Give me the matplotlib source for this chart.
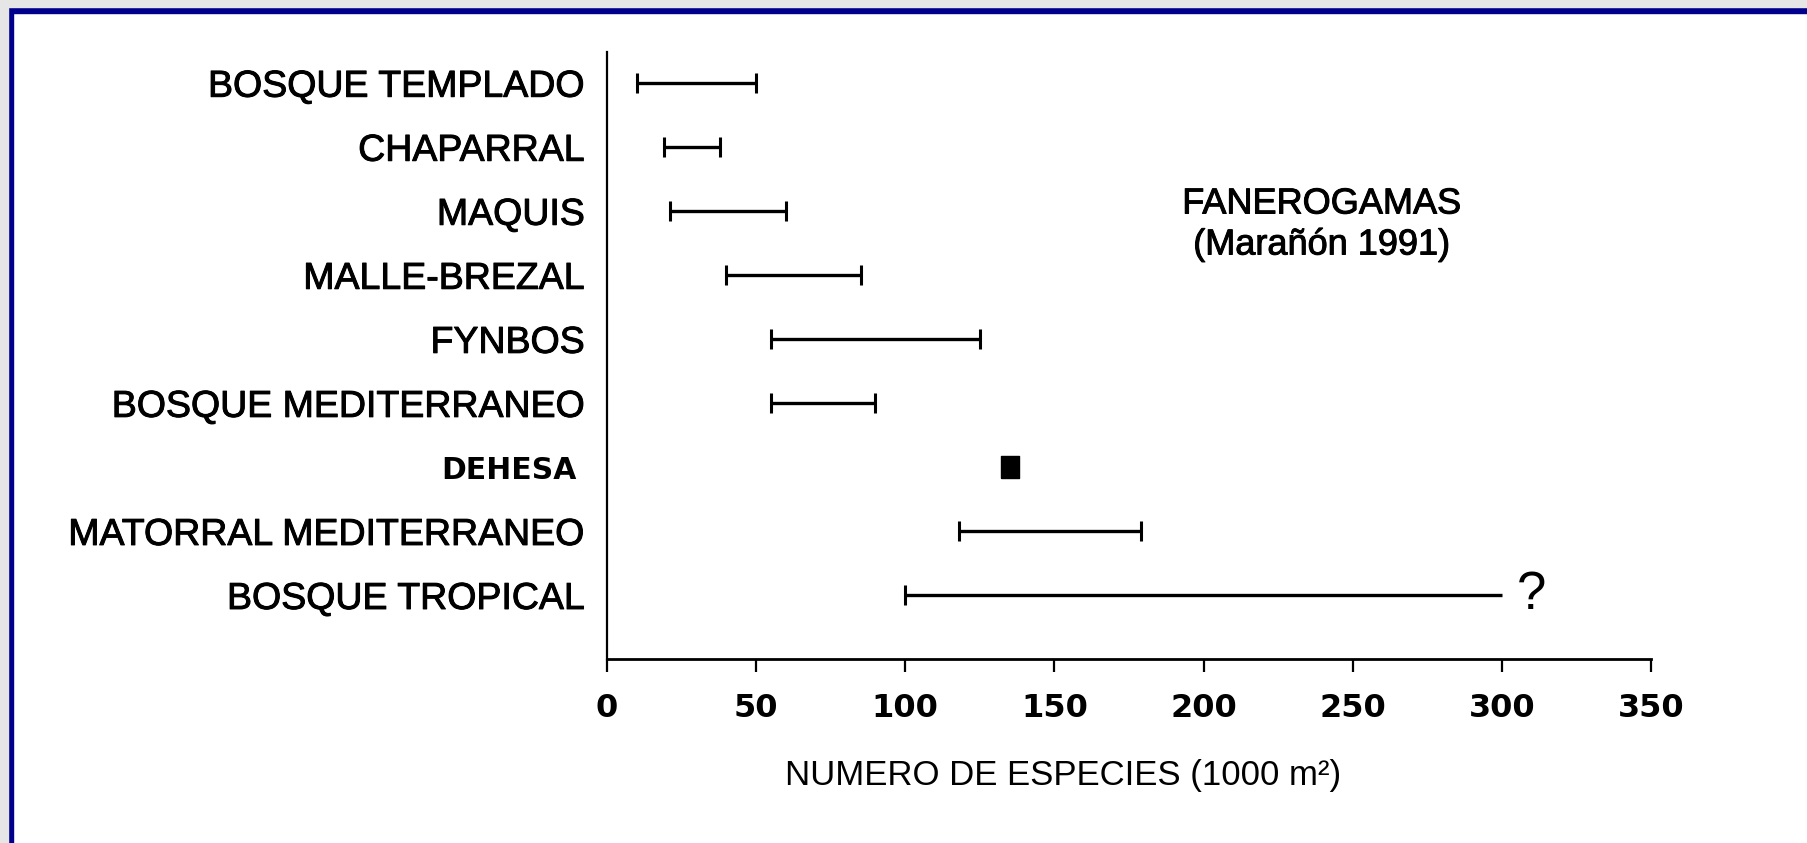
import matplotlib
matplotlib.use("Agg")
import matplotlib.pyplot as plt
import matplotlib.patheffects as pe
from matplotlib.patches import Rectangle
from matplotlib.transforms import blended_transform_factory, ScaledTranslation

# -----------------------------------------------------------------------------
# DATA (ranges of species number per 1000 m2)
# -----------------------------------------------------------------------------
habitats = ["BOSQUE TEMPLADO", "CHAPARRAL", "MAQUIS", "MALLE-BREZAL", "FYNBOS",
            "BOSQUE MEDITERRANEO", "DEHESA", "MATORRAL MEDITERRANEO", "BOSQUE TROPICAL"]
range_min = [10, 19, 21, 40, 55, 55, None, 118, 100]
range_max = [50, 38, 60, 85, 125, 90, None, 179, 300]
dehesa_value = 135
open_ended = ["BOSQUE TROPICAL"]   # no right cap, marked with '?'
xticks = [0, 50, 100, 150, 200, 250, 300, 350]

W, H = 1808, 843
fig = plt.figure(figsize=(W / 100, H / 100), dpi=100)
fig.patch.set_facecolor("white")

# frame of the scanned slide: grey + navy on top and left
fig.add_artist(Rectangle((0, 1 - 13 / H), 1, 13 / H, transform=fig.transFigure, color="#00008c", zorder=0))
fig.add_artist(Rectangle((0, 1 - 7 / H), 1, 7 / H, transform=fig.transFigure, color="#e6e6e6", zorder=1))
fig.add_artist(Rectangle((0, 0), 13 / W, 1, transform=fig.transFigure, color="#00008c", zorder=0))
fig.add_artist(Rectangle((0, 0), 8 / W, 1, transform=fig.transFigure, color="#e6e6e6", zorder=1))

# slightly heavier strokes, like the scanned print
heavy = [pe.withStroke(linewidth=0.7, foreground="black")]

ax = fig.add_axes([607 / W, 1 - 659 / H, (1651 - 607) / W, (659 - 52) / H])
ax.set_facecolor("none")

ypos = list(range(len(habitats)))
for y, name, lo, hi in zip(ypos, habitats, range_min, range_max):
    if lo is None:
        continue
    ax.hlines(y, lo, hi, color="black", lw=2.4)
    caps = [lo] if name in open_ended else [lo, hi]
    ax.plot(caps, [y] * len(caps), ls="none", marker="|", markersize=14, mew=2.2, color="black")
    if name in open_ended:
        ax.text(hi + 5, y, "?", fontsize=38, family="Liberation Sans", ha="left", va="center")

# DEHESA: single filled block
i_dehesa = habitats.index("DEHESA")
ax.plot([dehesa_value], [i_dehesa], ls="none", color="black",
        marker=[(-17, -22), (17, -22), (17, 22), (-17, 22), (-17, -22)], markersize=16)

ax.set_xlim(0, 350)
ax.set_ylim(len(habitats) + 0.0, -0.48)
ax.set_xticks(xticks)
ax.set_xticklabels([str(t) for t in xticks], fontsize=23, family="DejaVu Sans", fontweight="bold")
ax.set_yticks(ypos)
ax.set_yticklabels([h if h != "DEHESA" else "" for h in habitats], fontsize=27, family="Liberation Sans")
for lab in ax.get_yticklabels():
    lab.set_path_effects(heavy)

# DEHESA label is bold and sits a little further left
trans = blended_transform_factory(ax.transAxes, ax.transData) + ScaledTranslation(-30 / 100, -4 / 100, fig.dpi_scale_trans)
ax.text(0, i_dehesa, "DEHESA", transform=trans, fontsize=21.5, family="DejaVu Sans",
        fontweight="bold", ha="right", va="center")

ax.tick_params(axis="x", direction="out", length=9.4, width=1.6, pad=15)
ax.tick_params(axis="y", length=0, pad=16)
ax.spines["top"].set_visible(False)
ax.spines["right"].set_visible(False)
ax.spines["left"].set_linewidth(1.6)
ax.spines["bottom"].set_linewidth(2.0)

fig.text(1063 / W, 1 - 775 / H, "NUMERO DE ESPECIES (1000 m²)", fontsize=25,
         family="Liberation Sans", ha="center", va="center")
fig.text(1322 / W, 1 - 204 / H, "FANEROGAMAS", fontsize=26,
         family="Liberation Sans", ha="center", va="center", path_effects=heavy)
fig.text(1322 / W, 1 - 245 / H, "(Marañón 1991)", fontsize=26,
         family="Liberation Sans", ha="center", va="center", path_effects=heavy)

fig.savefig("out.png", dpi=100, facecolor=fig.get_facecolor())
plt.close(fig)
